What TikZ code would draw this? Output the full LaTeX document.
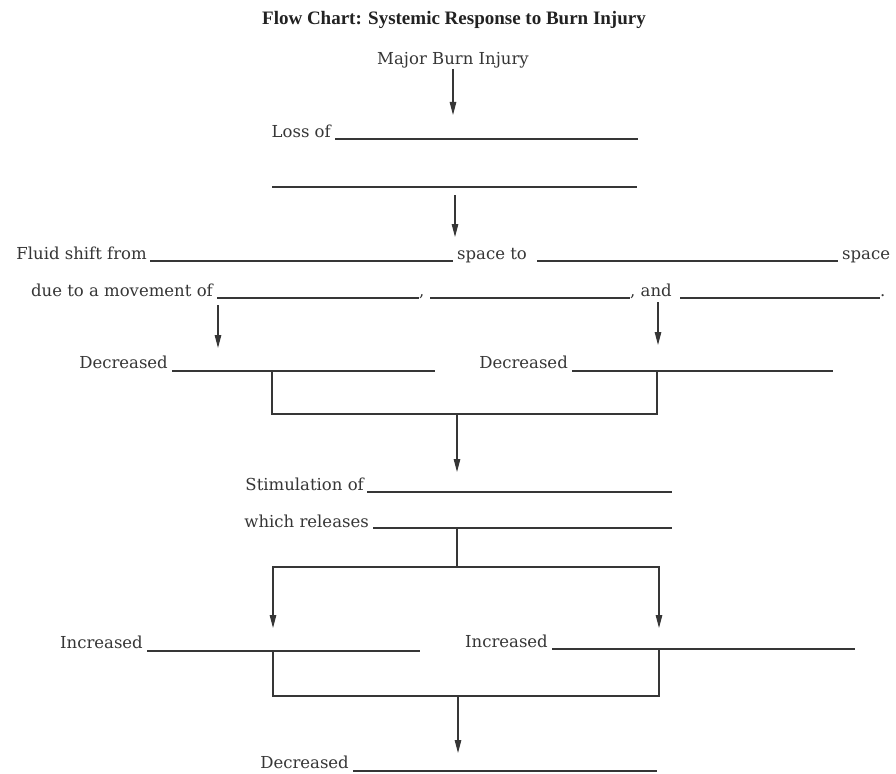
\documentclass[tikz,border=0pt]{standalone}
\usepackage{fontspec}
\setmainfont{DejaVu Serif}
\newfontfamily\titlefont{Liberation Serif}
\usetikzlibrary{arrows.meta}
\definecolor{ink}{HTML}{363636}
\definecolor{titleink}{HTML}{222222}
\begin{document}
\begin{tikzpicture}[x=1pt,y=-1pt,
  heading/.style={inner sep=0pt, text=titleink, font=\titlefont\bfseries\fontsize{19}{22}\selectfont},
  lbl/.style={anchor=base east, inner sep=0pt, text=ink, font=\fontsize{16.5}{19}\selectfont},
  lblr/.style={lbl, anchor=base west},
  blank/.style={draw=ink, line width=1.2pt},
  conn/.style={draw=ink, line width=1.2pt},
  arr/.style={conn, -{Triangle[length=13pt,width=6.5pt]}}]
\useasboundingbox[fill=white] (0,0) rectangle (896,773);

% heading and starting event
\node[heading] (title) at (454,20) {Flow Chart: Systemic Response to Burn Injury};
\node[lbl, anchor=base] (major) at (453,65) {Major Burn Injury};

% loss of ...
\node[lbl] (loss) at (331,138) {Loss of};
\coordinate (lossA) at (335,139);  \coordinate (lossB) at (638,139);
\coordinate (loss2A) at (272,187); \coordinate (loss2B) at (637,187);
\draw[blank] (lossA) -- (lossB);
\draw[blank] (loss2A) -- (loss2B);
\coordinate (lossIn) at (453,115);
\draw[arr] (major.south) -- (lossIn);

% fluid shift
\coordinate (lossOut) at (455,195);
\coordinate (shiftIn) at (455,237);
\draw[arr] (lossOut) -- (shiftIn);
\node[lbl] (fluid) at (147,259) {Fluid shift from};
\coordinate (fromA) at (150,261); \coordinate (fromB) at (453,261);
\draw[blank] (fromA) -- (fromB);
\node[lblr] (spaceto) at (457,259) {space to};
\coordinate (toA) at (537,261); \coordinate (toB) at (838,261);
\draw[blank] (toA) -- (toB);
\node[lblr] (space) at (842,259) {space};

% due to a movement of ...
\node[lbl] (due) at (213,296) {due to a movement of};
\coordinate (m1A) at (217,298); \coordinate (m1B) at (419,298);
\draw[blank] (m1A) -- (m1B);
\node[lblr] (comma) at (419,296) {,};
\coordinate (m2A) at (430,298); \coordinate (m2B) at (630,298);
\draw[blank] (m2A) -- (m2B);
\node[lblr] (and) at (630,296) {, and};
\coordinate (m3A) at (680,298); \coordinate (m3B) at (880,298);
\draw[blank] (m3A) -- (m3B);
\node[lblr] (stop) at (880,296) {.};

% two decreases
\coordinate (leftOut) at (218,305);  \coordinate (leftIn) at (218,348);
\coordinate (rightOut) at (658,302); \coordinate (rightIn) at (658,345);
\draw[arr] (leftOut) -- (leftIn);
\draw[arr] (rightOut) -- (rightIn);
\node[lbl] (decL) at (168,368) {Decreased};
\coordinate (dLA) at (172,371); \coordinate (dLB) at (435,371);
\draw[blank] (dLA) -- (dLB);
\node[lbl] (decR) at (568,368) {Decreased};
\coordinate (dRA) at (572,371); \coordinate (dRB) at (833,371);
\draw[blank] (dRA) -- (dRB);

% joining bracket
\coordinate (jL) at (272,371); \coordinate (jR) at (657,371);
\draw[conn] (jL) |- (457,414) -| (jR);
\coordinate (joinOut) at (457,414); \coordinate (stimIn) at (457,472);
\draw[arr] (joinOut) -- (stimIn);

% stimulation
\node[lbl] (stim) at (364,490) {Stimulation of};
\coordinate (sA) at (367,492); \coordinate (sB) at (672,492);
\draw[blank] (sA) -- (sB);
\node[lbl] (which) at (369,527) {which releases};
\coordinate (wA) at (373,528); \coordinate (wB) at (672,528);
\draw[blank] (wA) -- (wB);

% split into two increases
\coordinate (wOut) at (457,528); \coordinate (split) at (457,567);
\coordinate (incLIn) at (273,628); \coordinate (incRIn) at (659,628);
\draw[conn] (wOut) -- (split);
\draw[arr] (split) -| (incLIn);
\draw[arr] (split) -| (incRIn);
\node[lbl] (incL) at (143,648) {Increased};
\coordinate (iLA) at (147,651); \coordinate (iLB) at (420,651);
\draw[blank] (iLA) -- (iLB);
\node[lbl] (incR) at (548,647) {Increased};
\coordinate (iRA) at (552,649); \coordinate (iRB) at (855,649);
\draw[blank] (iRA) -- (iRB);

% joining bracket and final result
\coordinate (kL) at (273,651); \coordinate (kR) at (659,649);
\draw[conn] (kL) |- (458,696) -| (kR);
\coordinate (kOut) at (458,696); \coordinate (finIn) at (458,753);
\draw[arr] (kOut) -- (finIn);
\node[lbl] (dec) at (349,768) {Decreased};
\coordinate (fA) at (353,771); \coordinate (fB) at (657,771);
\draw[blank] (fA) -- (fB);
\end{tikzpicture}
\end{document}
